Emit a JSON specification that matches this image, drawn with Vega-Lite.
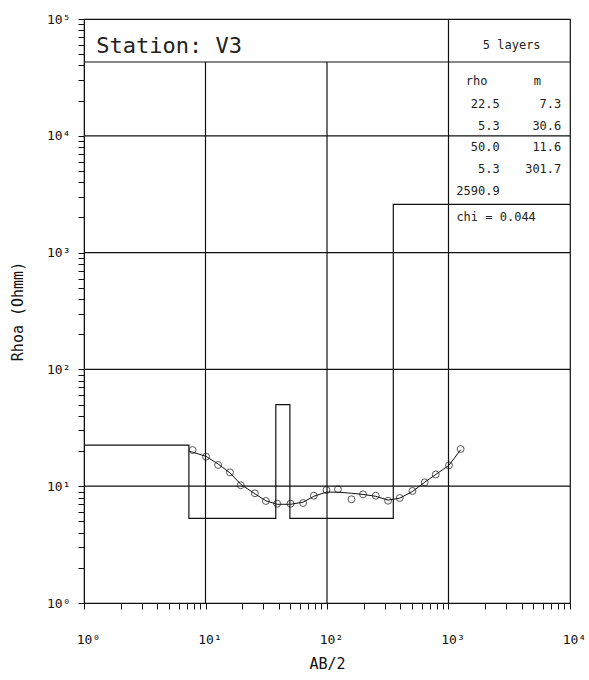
{
  "$schema": "https://vega.github.io/schema/vega-lite/v6.json",
  "autosize": {"type": "none"},
  "padding": {"left": 84, "top": 19, "right": 19, "bottom": 77},
  "width": 486,
  "height": 584,
  "background": "white",
  "config": {
    "view": {"stroke": "#111", "strokeWidth": 1.2},
    "font": "DejaVu Sans Mono",
    "axis": {"labelFont": "DejaVu Sans Mono", "titleFont": "DejaVu Sans Mono", "labelColor": "#111", "titleColor": "#111", "domainColor": "#111", "tickColor": "#111", "titleFontWeight": "normal"}
  },
  "datasets": {
    "model": [
      {"ab": 1, "rho": 22.5},
      {"ab": 7.3, "rho": 5.3},
      {"ab": 37.9, "rho": 50.0},
      {"ab": 49.5, "rho": 5.3},
      {"ab": 351.2, "rho": 2590.9},
      {"ab": 10000, "rho": 2590.9}
    ],
    "obs": [
      {"ab": 7.83, "rho": 20.4},
      {"ab": 10.1, "rho": 17.9},
      {"ab": 12.7, "rho": 15.2},
      {"ab": 15.9, "rho": 13.15},
      {"ab": 19.5, "rho": 10.2},
      {"ab": 25.5, "rho": 8.7},
      {"ab": 31.4, "rho": 7.47},
      {"ab": 38.9, "rho": 7.08},
      {"ab": 50.1, "rho": 7.08},
      {"ab": 63.6, "rho": 7.18},
      {"ab": 77.9, "rho": 8.29},
      {"ab": 99, "rho": 9.28},
      {"ab": 123, "rho": 9.41},
      {"ab": 159, "rho": 7.73},
      {"ab": 198, "rho": 8.52},
      {"ab": 252, "rho": 8.29},
      {"ab": 318, "rho": 7.51},
      {"ab": 397, "rho": 7.93},
      {"ab": 505, "rho": 9.1},
      {"ab": 637, "rho": 10.8},
      {"ab": 785, "rho": 12.6},
      {"ab": 1009, "rho": 15.1},
      {"ab": 1259, "rho": 20.8}
    ],
    "fit": [
      {"ab": 7.4, "rho": 19.8},
      {"ab": 7.83, "rho": 19.6},
      {"ab": 10.1, "rho": 18.0},
      {"ab": 12.7, "rho": 15.5},
      {"ab": 15.9, "rho": 13.0},
      {"ab": 19.5, "rho": 10.4},
      {"ab": 25.5, "rho": 8.6},
      {"ab": 31.4, "rho": 7.5},
      {"ab": 38.9, "rho": 7.0},
      {"ab": 50.1, "rho": 7.0},
      {"ab": 63.6, "rho": 7.3},
      {"ab": 77.9, "rho": 8.2},
      {"ab": 99, "rho": 8.9},
      {"ab": 123, "rho": 8.9},
      {"ab": 159, "rho": 8.7},
      {"ab": 198, "rho": 8.5},
      {"ab": 252, "rho": 8.2},
      {"ab": 318, "rho": 7.6},
      {"ab": 397, "rho": 7.9},
      {"ab": 505, "rho": 9.0},
      {"ab": 637, "rho": 10.8},
      {"ab": 785, "rho": 12.6},
      {"ab": 1009, "rho": 15.1},
      {"ab": 1259, "rho": 20.5}
    ],
    "hgrid": [{"rho": 10}, {"rho": 100}, {"rho": 1000}, {"rho": 10000}, {"rho": 42850}],
    "vfull": [{"ab": 1000}],
    "vpart": [{"ab": 10, "lo": 1, "hi": 42850}, {"ab": 100, "lo": 1, "hi": 42850}],
    "titleText": [{"ab": 1.26, "rho": 58700, "t": "Station: V3"}],
    "centerText": [
      {"ab": 3311, "rho": 59900, "t": "5 layers"},
      {"ab": 1706, "rho": 29640, "t": "rho"},
      {"ab": 5385, "rho": 29640, "t": "m"}
    ],
    "rightText": [
      {"ab": 2636, "rho": 18600, "t": "22.5"},
      {"ab": 8477, "rho": 18600, "t": "7.3"},
      {"ab": 2636, "rho": 12220, "t": "5.3"},
      {"ab": 8477, "rho": 12220, "t": "30.6"},
      {"ab": 2636, "rho": 8070, "t": "50.0"},
      {"ab": 8477, "rho": 8070, "t": "11.6"},
      {"ab": 2636, "rho": 5165, "t": "5.3"},
      {"ab": 8477, "rho": 5165, "t": "301.7"},
      {"ab": 2636, "rho": 3388, "t": "2590.9"}
    ],
    "leftText": [{"ab": 1161, "rho": 2030, "t": "chi = 0.044"}]
  },
  "encoding": {
    "x": {
      "field": "ab", "type": "quantitative",
      "scale": {"type": "log", "domain": [1, 10000], "nice": false},
      "axis": {
        "title": "AB/2", "titleFontSize": 15, "titleX": 243, "titleY": 60, "titleBaseline": "middle",
        "values": [1,2,3,4,5,6,7,8,9,10,20,30,40,50,60,70,80,90,100,200,300,400,500,600,700,800,900,1000,2000,3000,4000,5000,6000,7000,8000,9000,10000],
        "labelExpr": "abs(log(datum.value)/LN10 - round(log(datum.value)/LN10)) < 0.000001 ? '10' + ['⁰','¹','²','³','⁴','⁵'][round(log(datum.value)/LN10)] : ''",
        "labelFontSize": 13, "labelPadding": 24, "labelOffset": 4, "labelOverlap": false, "labelFlush": false,
        "tickSize": 6, "grid": false
      }
    },
    "y": {
      "field": "rho", "type": "quantitative",
      "scale": {"type": "log", "domain": [1, 100000], "nice": false},
      "axis": {
        "title": "Rhoa (Ohmm)", "titleFontSize": 15, "titleX": -67, "titleY": 292, "titleBaseline": "middle", "titleAngle": -90,
        "values": [1,2,3,4,5,6,7,8,9,10,20,30,40,50,60,70,80,90,100,200,300,400,500,600,700,800,900,1000,2000,3000,4000,5000,6000,7000,8000,9000,10000,20000,30000,40000,50000,60000,70000,80000,90000,100000],
        "labelExpr": "abs(log(datum.value)/LN10 - round(log(datum.value)/LN10)) < 0.000001 ? '10' + ['⁰','¹','²','³','⁴','⁵'][round(log(datum.value)/LN10)] : ''",
        "labelFontSize": 13, "labelPadding": 8, "labelOverlap": false, "labelFlush": false,
        "tickSize": 6, "grid": false
      }
    }
  },
  "layer": [
    {"data": {"name": "hgrid"}, "mark": {"type": "rule", "color": "#111", "strokeWidth": 1.2}, "encoding": {"x": null, "y": {"field": "rho", "type": "quantitative"}}},
    {"data": {"name": "vfull"}, "mark": {"type": "rule", "color": "#111", "strokeWidth": 1.2}, "encoding": {"y": null, "x": {"field": "ab", "type": "quantitative"}}},
    {"data": {"name": "vpart"}, "mark": {"type": "rule", "color": "#111", "strokeWidth": 1.2}, "encoding": {"x": {"field": "ab", "type": "quantitative"}, "y": {"field": "lo", "type": "quantitative"}, "y2": {"field": "hi"}}},
    {"data": {"name": "model"}, "mark": {"type": "line", "interpolate": "step-after", "color": "#111", "strokeWidth": 1.2}, "encoding": {}},
    {"data": {"name": "fit"}, "mark": {"type": "line", "color": "#111", "strokeWidth": 1}, "encoding": {}},
    {"data": {"name": "obs"}, "mark": {"type": "point", "shape": "circle", "filled": false, "size": 48, "color": "#111", "strokeWidth": 1}},
    {"data": {"name": "titleText"}, "mark": {"type": "text", "align": "left", "baseline": "middle", "fontSize": 22, "font": "DejaVu Sans Mono", "color": "#222"}, "encoding": {"text": {"field": "t"}}},
    {"data": {"name": "centerText"}, "mark": {"type": "text", "align": "center", "baseline": "middle", "fontSize": 12, "font": "DejaVu Sans Mono", "color": "#222"}, "encoding": {"text": {"field": "t"}}},
    {"data": {"name": "rightText"}, "mark": {"type": "text", "align": "right", "baseline": "middle", "fontSize": 12, "font": "DejaVu Sans Mono", "color": "#222"}, "encoding": {"text": {"field": "t"}}},
    {"data": {"name": "leftText"}, "mark": {"type": "text", "align": "left", "baseline": "middle", "fontSize": 12, "font": "DejaVu Sans Mono", "color": "#222"}, "encoding": {"text": {"field": "t"}}}
  ]
}
